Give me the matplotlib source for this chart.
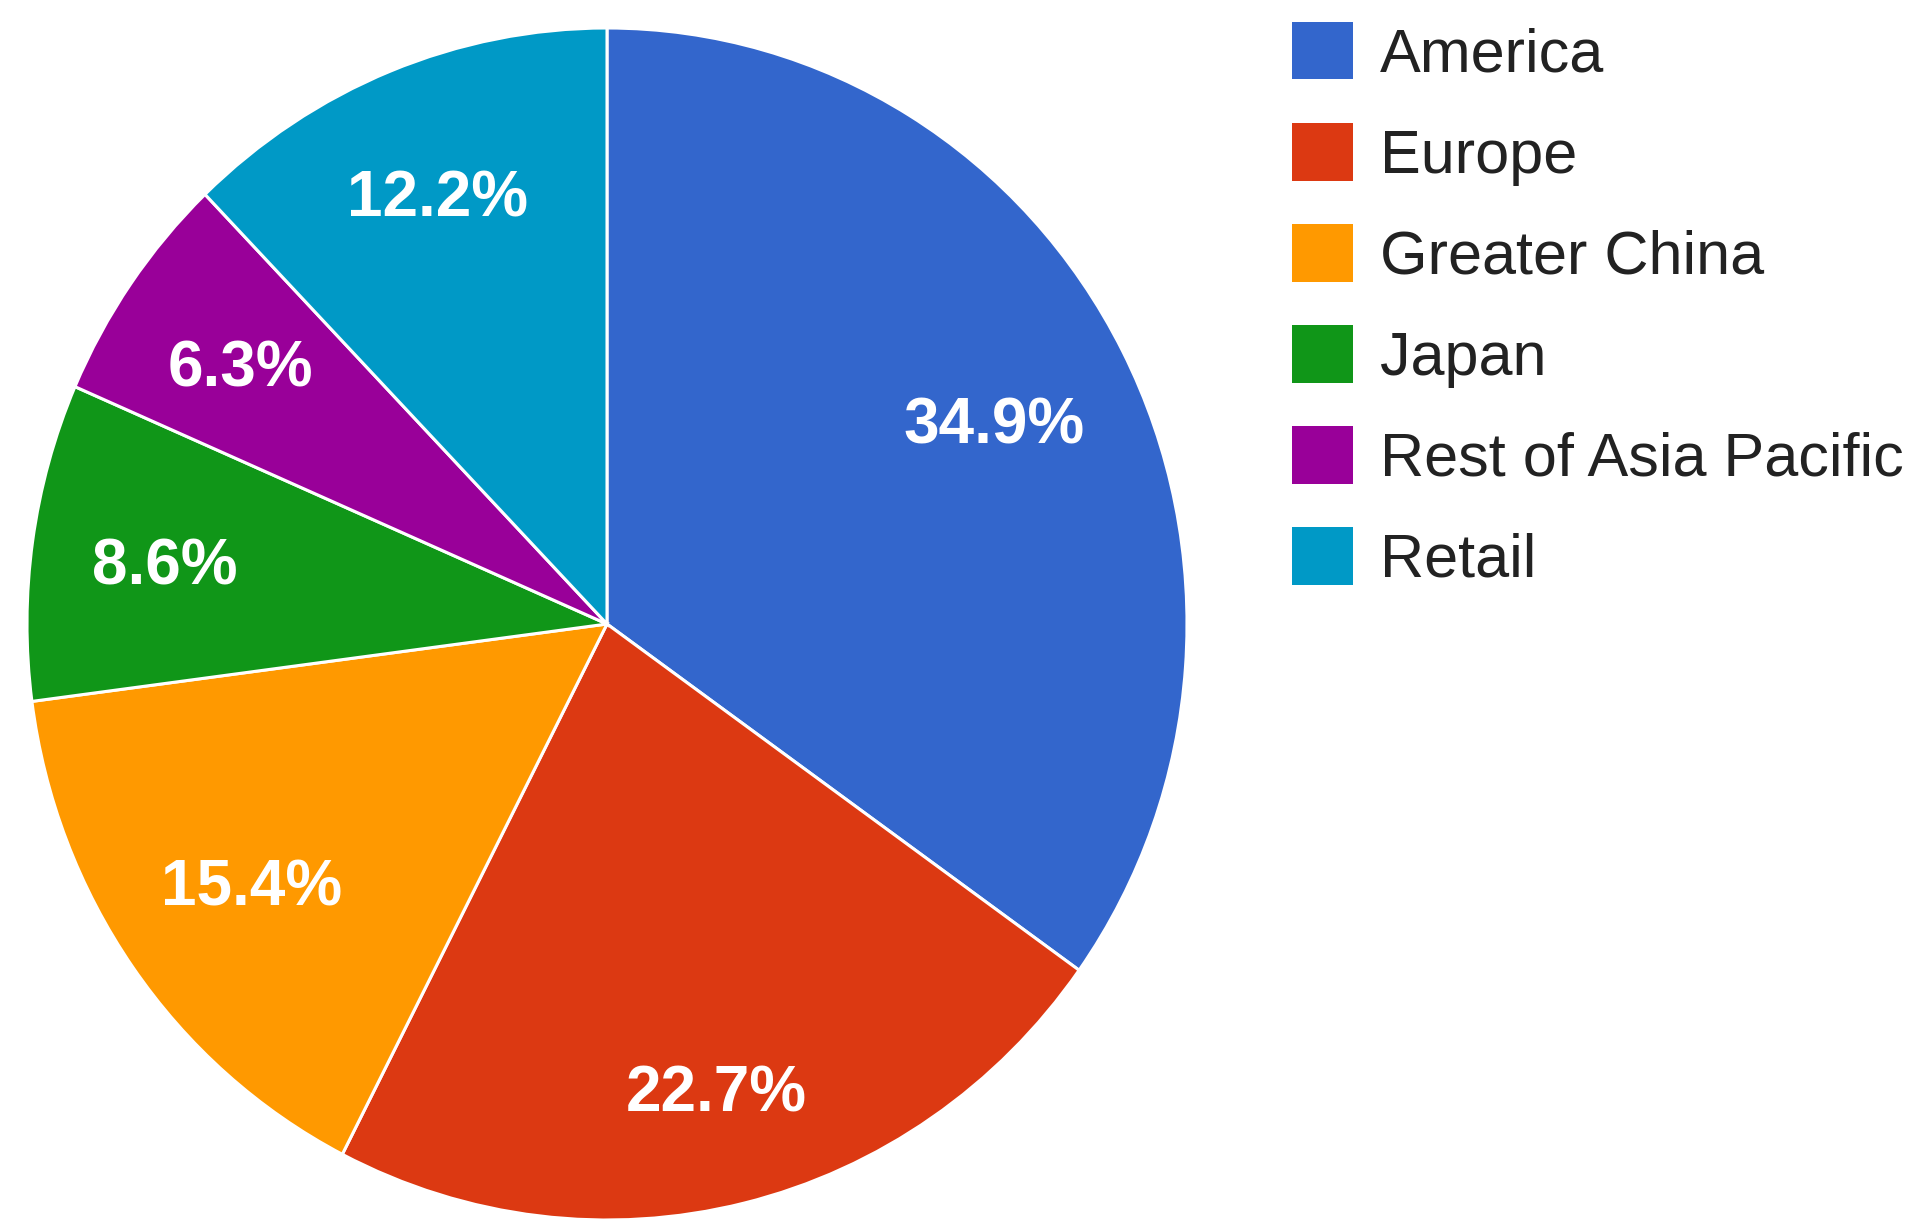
import matplotlib
matplotlib.use("Agg")
import matplotlib.pyplot as plt
import matplotlib.transforms as mtransforms
import numpy as np

regions = ["America", "Europe", "Greater China", "Japan", "Rest of Asia Pacific", "Retail"]
shares = [34.9, 22.7, 15.4, 8.6, 6.3, 12.2]
colors = ["#3366cc", "#dc3912", "#ff9900", "#109618", "#990099", "#0099c6"]

W, H = 1919, 1225
fig = plt.figure(figsize=(W / 100, H / 100), dpi=100)
fig.patch.set_facecolor("white")

# pie bounding box in pixels (slightly stretched like the reference)
cx, cy, rx, ry = 607, 624, 580, 596
ax = fig.add_axes([(cx - rx) / W, (H - cy - ry) / H, 2 * rx / W, 2 * ry / H])

wedges, texts, autotexts = ax.pie(
    shares,
    colors=colors,
    startangle=90,
    counterclock=False,
    autopct="%1.1f%%",
    pctdistance=0.76,
    radius=1.0,
    wedgeprops=dict(edgecolor="white", linewidth=2.2),
    textprops=dict(color="white", fontsize=46, fontweight="bold",
                   family=["Liberation Sans", "DejaVu Sans"]),
)
label_dist = [0.75, 0.80, 0.75, 0.77, 0.77, 0.78]
shift = mtransforms.offset_copy(ax.transData, fig=fig, x=0, y=-7, units="dots")
for t, v, w, d in zip(autotexts, shares, wedges, label_dist):
    t.set_text(f"{v:.1f}%")
    ang = np.deg2rad((w.theta1 + w.theta2) / 2)
    t.set_position((d * np.cos(ang), d * np.sin(ang)))
    t.set_transform(shift)
    t.set_va("center")
    t.set_ha("center")

ax.set_aspect("auto")
ax.set_xlim(-1, 1)
ax.set_ylim(-1, 1)
ax.axis("off")

leg = fig.legend(
    wedges, regions,
    loc="upper left",
    bbox_to_anchor=(1292 / W, (H - 22) / H),
    frameon=False,
    borderpad=0,
    borderaxespad=0,
    handlelength=1.0,
    handleheight=1.07,
    handletextpad=0.44,
    labelspacing=0.63,
    prop=dict(family=["Liberation Sans", "DejaVu Sans"], size=44),
)
for h in leg.legend_handles:
    h.set_edgecolor("none")
for t in leg.get_texts():
    t.set_color("#222222")

fig.savefig("out.png", dpi=100, facecolor="white")
